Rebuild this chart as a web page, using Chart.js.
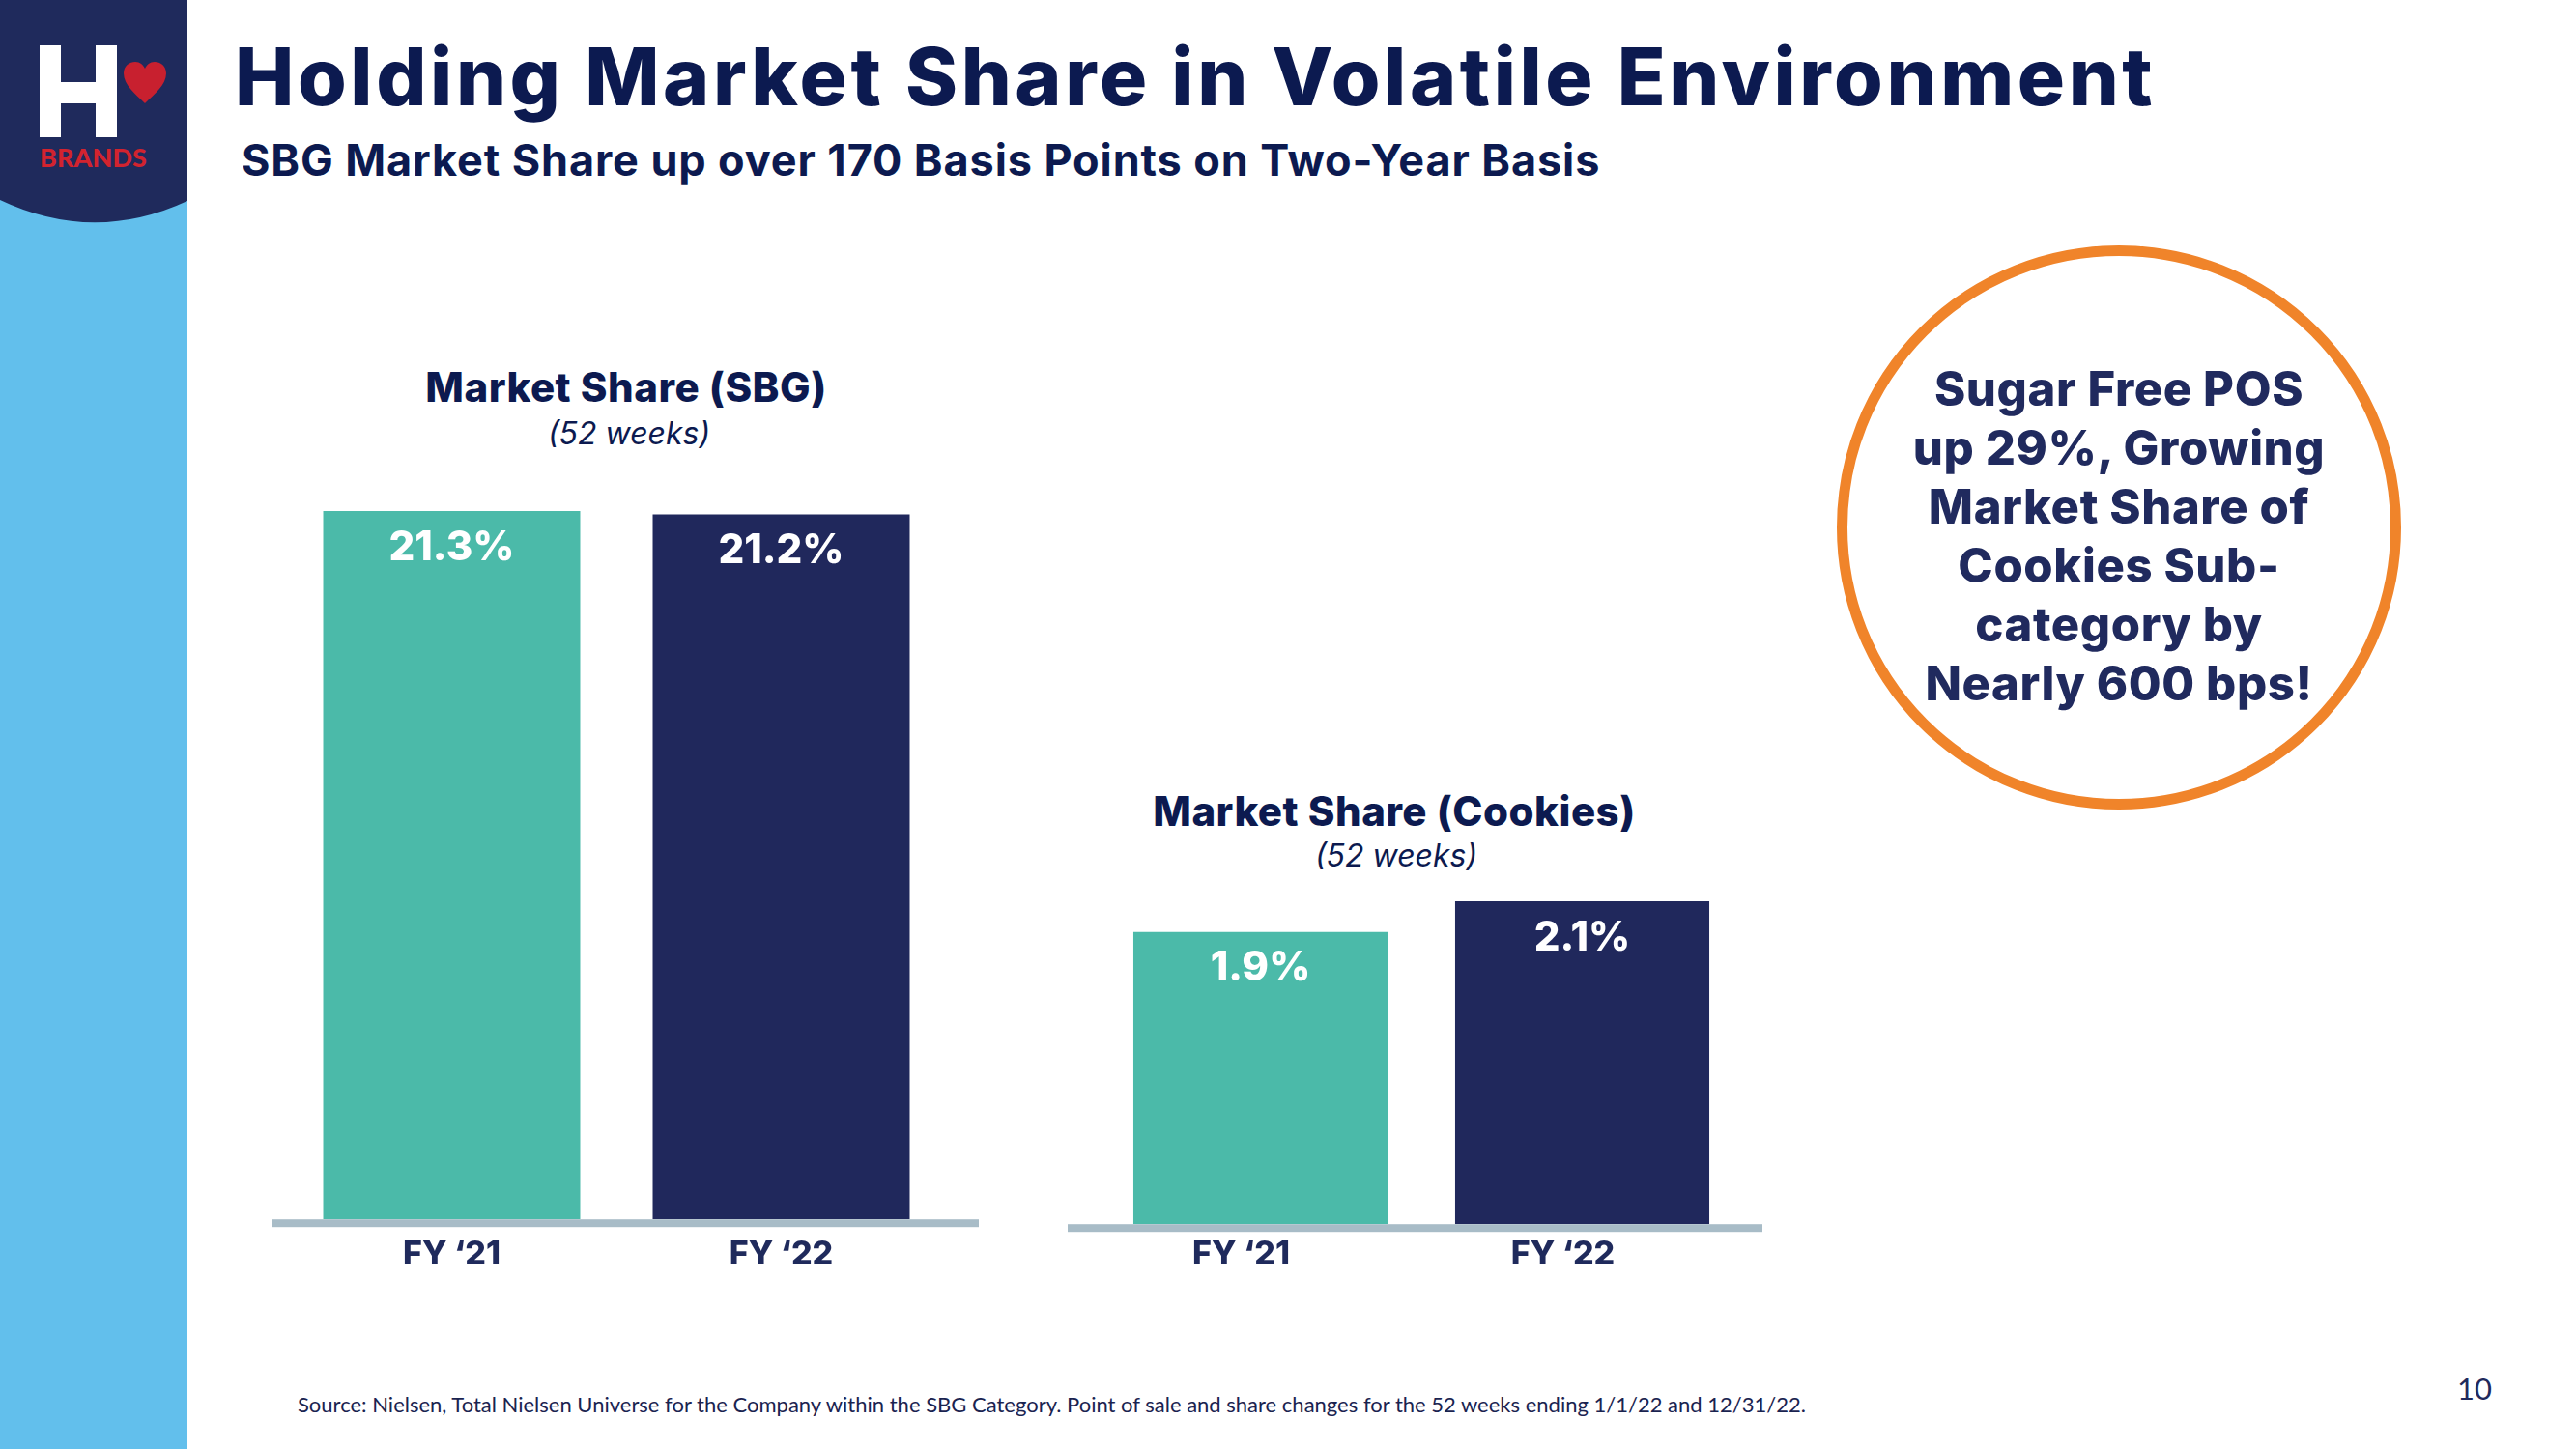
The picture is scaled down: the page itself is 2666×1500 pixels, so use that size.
<!DOCTYPE html>
<html>
<head>
<meta charset="utf-8">
<script src="https://cdn.jsdelivr.net/npm/chart.js@4.4.1/dist/chart.umd.min.js"></script>
<style>
    html, body { margin: 0; padding: 0; }
    body { width: 2666px; height: 1500px; position: relative; overflow: hidden; background: #ffffff; font-family: Inter, sans-serif; color: #0d1b52; }
    .strip { position: absolute; left: 0; top: 0; width: 194px; height: 1500px; background: #62bfec; }
    .logo { position: absolute; left: 0; top: 0; }
    .title { position: absolute; left: 243px; top: 39px; font-size: 82px; line-height: 1; font-weight: 800; letter-spacing: 3.6px; white-space: nowrap; color: #0c1a50; }
    .subtitle { position: absolute; left: 250px; top: 143px; font-size: 45px; line-height: 1; font-weight: 700; letter-spacing: 0.9px; white-space: nowrap; color: #0c1a50; }
    .box { position: absolute; }
    .chart-head { position: absolute; transform: translate(-50%, -50%); line-height: 1; white-space: nowrap; color: #0c1a50; }
    .chart-head.main { font-size: 42px; font-weight: 800; letter-spacing: 0.5px; }
    .chart-head.sub { font-size: 32px; font-style: italic; }
    .circle { position: absolute; left: 1901px; top: 254px; width: 562px; height: 562px; border: 11px solid #f0842a; border-radius: 50%; }
    .circle-text { position: absolute; left: 1863px; top: 372px; width: 660px; text-align: center; font-size: 49px; line-height: 61px; font-weight: 800; letter-spacing: 0.6px; color: #202a5e; }
    .source { position: absolute; left: 308px; top: 1440px; font-family: Lato, sans-serif; font-size: 22px; color: #1a2350; white-space: nowrap; }
    .page { position: absolute; left: 2543px; top: 1418px; font-family: Lato, sans-serif; font-size: 31px; color: #1f2a5c; }
</style>
</head>
<body>
<div class="strip"></div>
<svg class="logo" width="194" height="260" viewBox="0 0 194 260">
    <path d="M0,0 H194 V208 Q97,253 0,207 Z" fill="#1f2a5c"/>
    <rect x="41" y="47" width="22" height="95" fill="#ffffff"/>
    <rect x="99" y="47" width="22" height="95" fill="#ffffff"/>
    <rect x="41" y="85" width="80" height="22" fill="#ffffff"/>
    <path d="M150,107 C140,97 128,88 128,76 C128,68 134,64 140,64 C145,64 148,67 150,71 C152,67 155,64 160,64 C166,64 172,68 172,76 C172,88 160,97 150,107 Z" fill="#c8202f"/>
    <text x="41" y="173" textLength="111" font-family="Lato" font-weight="900" font-size="27" fill="#d2232f">BRANDS</text>
</svg>

<div class="title">Holding Market Share in Volatile Environment</div>
<div class="subtitle">SBG Market Share up over 170 Basis Points on Two-Year Basis</div>

<div class="chart-head main" style="left:648px; top:401px;">Market Share (SBG)</div>
<div class="chart-head sub" style="left:651px; top:449px;">(52 weeks)</div>
<div class="box" style="left:282px; top:505px; width:731px; height:830px;"><canvas id="sbgChart"></canvas></div>

<div class="chart-head main" style="left:1443px; top:840px;">Market Share (Cookies)</div>
<div class="chart-head sub" style="left:1445px; top:886px;">(52 weeks)</div>
<div class="box" style="left:1105px; top:917px; width:719px; height:413px;"><canvas id="cookiesChart"></canvas></div>

<div class="circle"></div>
<div class="circle-text">Sugar Free POS<br>up 29%, Growing<br>Market Share of<br>Cookies Sub-<br>category by<br>Nearly 600 bps!</div>

<div class="source">Source: Nielsen, Total Nielsen Universe for the Company within the SBG Category. Point of sale and share changes for the 52 weeks ending 1/1/22 and 12/31/22.</div>
<div class="page">10</div>

<script>
// Datos del gráfico
const categories = ['FY \u201821', 'FY \u201822'];
const sbgShare = [21.3, 21.2];
const cookiesShare = [1.9, 2.1];
const barColors = ['#4bbaa9', '#20285c'];

const navy = '#1f2a5c';
const axisGray = '#a8bcc7';

// Etiquetas de valor dentro de la barra
const valueLabels = {
    id: 'valueLabels',
    afterDatasetsDraw(chart) {
        const ctx = chart.ctx;
        const meta = chart.getDatasetMeta(0);
        ctx.save();
        ctx.fillStyle = '#ffffff';
        ctx.font = '800 42px Inter';
        ctx.textAlign = 'center';
        ctx.textBaseline = 'middle';
        meta.data.forEach(function(bar, i) {
            const v = chart.data.datasets[0].data[i];
            ctx.fillText(v.toFixed(1) + '%', bar.x, bar.y + 38);
        });
        ctx.restore();
    }
};

// Línea base gris a todo el ancho
const baseLine = {
    id: 'baseLine',
    afterDatasetsDraw(chart) {
        const ctx = chart.ctx;
        const y = chart.scales.y.getPixelForValue(0);
        ctx.save();
        ctx.fillStyle = axisGray;
        ctx.fillRect(0, y, chart.width, 8);
        ctx.restore();
    }
};

function makeChart(id, values, cfg) {
    const ctx = document.getElementById(id).getContext('2d');
    return new Chart(ctx, {
        type: 'bar',
        data: {
            labels: categories,
            datasets: [{
                data: values,
                backgroundColor: barColors,
                borderWidth: 0,
                categoryPercentage: 1,
                barPercentage: cfg.barPct
            }]
        },
        options: {
            responsive: true,
            maintainAspectRatio: false,
            animation: false,
            layout: { padding: { left: cfg.padLeft, right: cfg.padRight, top: 0, bottom: 0 } },
            plugins: {
                legend: { display: false },
                tooltip: { enabled: false }
            },
            scales: {
                y: { display: false, min: 0, max: cfg.yMax },
                x: {
                    grid: { display: false, drawTicks: false },
                    border: { display: false },
                    ticks: {
                        color: navy,
                        font: { family: 'Inter', size: 34, weight: '800' },
                        padding: cfg.tickPad,
                        labelOffset: cfg.labelShift
                    }
                }
            }
        },
        plugins: [baseLine, valueLabels]
    });
}

document.addEventListener('DOMContentLoaded', function() {
    makeChart('sbgChart', sbgShare, {
        yMax: 22, barPct: 0.78, labelShift: 0,
        padLeft: 15, padRight: 34, tickPad: 16
    });
    makeChart('cookiesChart', cookiesShare, {
        yMax: 2.2, barPct: 0.79, labelShift: -20,
        padLeft: 33, padRight: 20, tickPad: 11
    });
});
</script>
</body>
</html>
